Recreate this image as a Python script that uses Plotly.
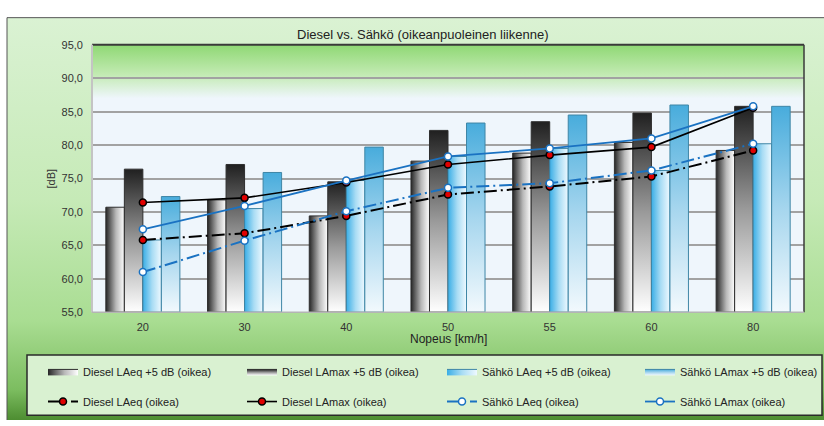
import plotly.graph_objects as go

# ---------------- data ----------------
categories = ['20', '30', '40', '50', '55', '60', '80']
diesel_laeq5 = [70.7, 71.8, 69.4, 77.6, 78.8, 80.4, 79.2]
diesel_lamax5 = [76.4, 77.1, 74.5, 82.2, 83.5, 84.8, 85.8]
sahko_laeq5 = [65.8, 70.5, 74.7, 78.3, 79.5, 76.2, 80.2]
sahko_lamax5 = [72.3, 75.9, 79.7, 83.3, 84.5, 86.0, 85.8]
diesel_laeq = [65.8, 66.8, 69.4, 72.6, 73.8, 75.3, 79.2]
diesel_lamax = [71.4, 72.1, 74.4, 77.1, 78.5, 79.7, 85.6]
sahko_laeq = [61.0, 65.7, 70.1, 73.6, 74.3, 76.2, 80.2]
sahko_lamax = [67.4, 70.9, 74.7, 78.3, 79.5, 81.0, 85.8]

y_ticks = [55, 60, 65, 70, 75, 80, 85, 90, 95]

# ---------------- layout constants ----------------
W, H = 824, 426
PL, PR, PT, PB = 92, 804, 40, 315
YMIN, YMAX = 55, 95
BAR_W = 0.182
FONT = 'Liberation Sans, Arial, sans-serif'
NARROW = 'Liberation Sans Narrow, Liberation Sans, Arial, sans-serif'
LEG_COLS = [43, 242, 442, 640]
LEG_ROWS = [376, 407]

fig = go.Figure()

# ---------------- background (pixel subplot x/y, y reversed) ----------------
def rect(x0, y0, x1, y1):
    return [x0, x1, x1, x0, x0], [y0, y0, y1, y1, y0]

bx, by = rect(7, 12, W + 2, H + 2)
fig.add_trace(go.Scatter(
    x=bx, y=by, mode='lines', fill='toself', line=dict(width=0),
    fillgradient=dict(type='vertical', colorscale=[
        [0, '#4a8a2e'], [0.08, '#7cbd60'], [0.25, '#a9dd92'],
        [0.55, '#c6eab7'], [1, '#daf2d3']]),
    hoverinfo='skip', showlegend=False, xaxis='x', yaxis='y'))

px_, py_ = rect(PL, PT, PR, PB)
fig.add_trace(go.Scatter(
    x=px_, y=py_, mode='lines', fill='toself', fillcolor='#eff6fc',
    line=dict(width=0), hoverinfo='skip', showlegend=False, xaxis='x', yaxis='y'))

band_h = (PB - PT) * 8 / (YMAX - YMIN)
gx, gy = rect(PL, PT, PR, PT + band_h)
fig.add_trace(go.Scatter(
    x=gx, y=gy, mode='lines', fill='toself', line=dict(width=0),
    fillgradient=dict(type='vertical', colorscale=[
        [0, '#eff6fc'], [0.45, '#c2eab2'], [1, '#8fd874']]),
    hoverinfo='skip', showlegend=False, xaxis='x', yaxis='y'))

# ---------------- bars (as gradient-filled polygons) ----------------
bar_series = [
    ('Diesel LAeq +5 dB (oikea)', diesel_laeq5, 'horizontal',
     [[0, '#262626'], [0.55, '#b8b8b8'], [1, '#ffffff']], '#2e2e2e'),
    ('Diesel LAmax +5 dB (oikea)', diesel_lamax5, 'vertical',
     [[0, '#ffffff'], [0.5, '#9a9a9a'], [1, '#202020']], '#2e2e2e'),
    ('Sähkö LAeq +5 dB (oikea)', sahko_laeq5, 'horizontal',
     [[0, '#3aaee6'], [0.5, '#a8dcf4'], [1, '#eef9ff']], '#3f86a6'),
    ('Sähkö LAmax +5 dB (oikea)', sahko_lamax5, 'vertical',
     [[0, '#f2f9fd'], [0.5, '#a6d6ee'], [1, '#48acdc']], '#3f86a6'),
]

legend_ids = ['legend'] + ['legend%d' % k for k in range(2, 9)]

for i, (name, vals, gtype, cs, lc) in enumerate(bar_series):
    for j, v in enumerate(vals):
        x0 = j - 2 * BAR_W + i * BAR_W
        xs, ys = rect(x0, YMIN, x0 + BAR_W, v)
        fig.add_trace(go.Scatter(
            x=xs, y=ys, mode='lines', fill='toself',
            fillgradient=dict(type=gtype, colorscale=cs),
            line=dict(color=lc, width=1),
            name=name, legendgroup=name, showlegend=(j == 0), legend=legend_ids[i],
            hoverinfo='skip', xaxis='x2', yaxis='y2'))

# ---------------- lines ----------------
DASH = '13px,4px,2px,4px'
xs_cat = list(range(len(categories)))
line_series = [
    ('Diesel LAeq (oikea)', diesel_laeq, '#000000', DASH, '#e00000', '#000000', 2),
    ('Diesel LAmax (oikea)', diesel_lamax, '#000000', 'solid', '#e00000', '#000000', 1.6),
    ('Sähkö LAeq (oikea)', sahko_laeq, '#1a72c2', DASH, '#ffffff', '#1a72c2', 2),
    ('Sähkö LAmax (oikea)', sahko_lamax, '#1a72c2', 'solid', '#ffffff', '#1a72c2', 1.8),
]
for k, (name, vals, col, dash, mfill, mline, lw) in enumerate(line_series):
    fig.add_trace(go.Scatter(
        x=xs_cat, y=vals, mode='lines+markers', name=name,
        line=dict(color=col, width=lw, dash=dash),
        marker=dict(symbol='circle', size=7, color=mfill, line=dict(color=mline, width=1.5)),
        legend=legend_ids[4 + k], hoverinfo='skip', xaxis='x2', yaxis='y2'))

# ---------------- layout ----------------
shapes = [
    # outer frame
    dict(type='line', xref='x', yref='y', x0=7, x1=W + 2, y0=12, y1=12,
         line=dict(color='#555555', width=1)),
    dict(type='line', xref='x', yref='y', x0=7, x1=7, y0=12, y1=H + 2,
         line=dict(color='#555555', width=1)),
    # legend box
    dict(type='rect', xref='x', yref='y', x0=27, x1=822, y0=359, y1=421,
         fillcolor='#d9f1d1', line=dict(color='#2a2a2a', width=1.5), layer='above'),
    # plot frame
    dict(type='line', xref='x2 domain', yref='y2 domain', x0=0, x1=1, y0=1, y1=1,
         line=dict(color='#3a3a3a', width=2)),
    dict(type='line', xref='x2 domain', yref='y2 domain', x0=1, x1=1, y0=0, y1=1,
         line=dict(color='#3a3a3a', width=1.5)),
    dict(type='line', xref='x2 domain', yref='y2 domain', x0=0, x1=0, y0=0, y1=1,
         line=dict(color='#c4c4c4', width=2)),
    dict(type='line', xref='x2 domain', yref='y2 domain', x0=0, x1=1, y0=0, y1=0,
         line=dict(color='#b4b4b4', width=1.5)),
]

annotations = [
    dict(text='Diesel vs. Sähkö (oikeanpuoleinen liikenne)', x=422 / W, y=1 - 29 / H,
         xref='paper', yref='paper', showarrow=False, xanchor='center', yanchor='middle',
         font=dict(family=NARROW, size=13, color='#222222')),
    dict(text='Nopeus [km/h]', x=448 / W, y=1 - 343 / H,
         xref='paper', yref='paper', showarrow=False, xanchor='center', yanchor='middle',
         font=dict(family=NARROW, size=12, color='#222222')),
    dict(text='[dB]', x=50 / W, y=1 - ((PT + PB) / 2) / H, textangle=-90,
         xref='paper', yref='paper', showarrow=False, xanchor='center', yanchor='middle',
         font=dict(family=FONT, size=11, color='#333333')),
]

legends = {}
for k, lid in enumerate(legend_ids):
    legends[lid] = dict(
        orientation='h', xanchor='left', yanchor='middle',
        x=LEG_COLS[k % 4] / W, y=1 - LEG_ROWS[k // 4] / H,
        bgcolor='rgba(0,0,0,0)', borderwidth=0,
        font=dict(family=FONT, size=11, color='#222222'),
        itemclick=False, itemdoubleclick=False)

fig.update_layout(
    width=W, height=H, margin=dict(l=0, r=0, t=0, b=0),
    paper_bgcolor='#ffffff', plot_bgcolor='rgba(0,0,0,0)',
    separators=',.',
    xaxis=dict(domain=[0, 1], range=[0, W], visible=False, fixedrange=True),
    yaxis=dict(domain=[0, 1], range=[H, 0], visible=False, fixedrange=True),
    xaxis2=dict(domain=[PL / W, PR / W], anchor='y2', range=[-0.5, len(categories) - 0.5],
                tickmode='array', tickvals=xs_cat, ticktext=categories,
                showgrid=False, zeroline=False, showline=False, ticks='',
                ticklabelstandoff=7,
                tickfont=dict(family=FONT, size=11, color='#333333'), fixedrange=True),
    yaxis2=dict(domain=[1 - PB / H, 1 - PT / H], anchor='x2', range=[YMIN, YMAX],
                tickmode='array', tickvals=y_ticks, tickformat='.1f',
                showgrid=True, gridcolor='#a2a2a2', gridwidth=1.5,
                zeroline=False, showline=False, ticks='', ticklabelstandoff=8,
                tickfont=dict(family=FONT, size=11, color='#333333'), fixedrange=True),
    shapes=shapes, annotations=annotations,
    showlegend=True, hovermode=False,
    **legends,
)

fig.write_html('out.html')
